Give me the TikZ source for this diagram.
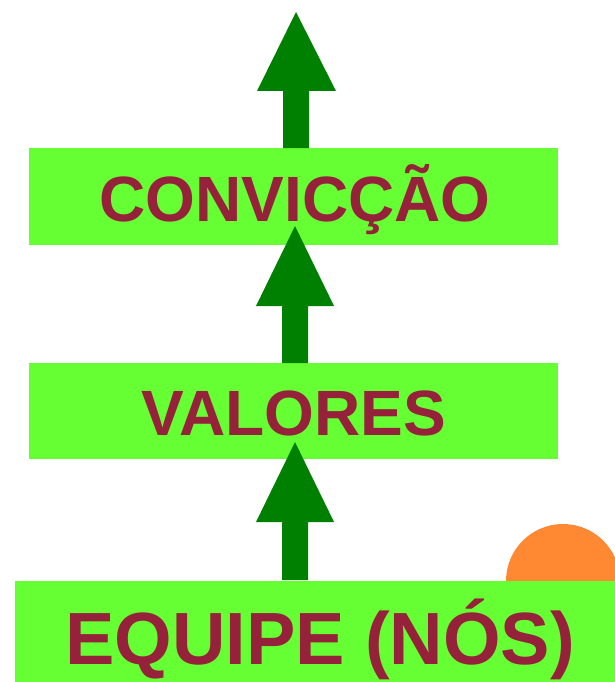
\documentclass[tikz,border=0pt]{standalone}
\usepackage{fontspec}
\setmainfont{Liberation Sans}
\definecolor{boxgreen}{HTML}{66FF33}
\definecolor{arrgreen}{HTML}{008000}
\definecolor{txtred}{HTML}{96213A}
\definecolor{sunorange}{HTML}{FF8833}
\begin{document}
\begin{tikzpicture}[x=1pt,y=-1pt,
  bar/.style={fill=boxgreen,draw=none},
  lbl/.style={anchor=base,text=txtred,font=\bfseries,inner sep=0pt},
  blockarrow/.style={fill=arrgreen,draw=none}]
\useasboundingbox (0,0) rectangle (615,682);
% sun
\fill[sunorange] (563,581) circle (57);
% boxes
\fill[bar] (29,148) rectangle (558,245);
\fill[bar] (29,363) rectangle (558,459);
\fill[bar] (15,581) rectangle (615,682);
\coordinate (c1) at (296,148);
\coordinate (c2) at (295,363);
\coordinate (c3) at (295,580);
% arrows
\fill[blockarrow] (c1) ++(-13,0) -- ++(0,-57) -- ++(-26,0) -- (296,12) -- (336,91) -- ++(-27,0) -- ++(0,57) -- cycle;
\fill[blockarrow] (c2) ++(-13,0) -- ++(0,-57) -- ++(-26,0) -- (295,226) -- (334,306) -- ++(-26,0) -- ++(0,57) -- cycle;
\fill[blockarrow] (c3) ++(-13,0) -- ++(0,-58) -- ++(-26,0) -- (295,442) -- (334,522) -- ++(-26,0) -- ++(0,58) -- cycle;
% labels
\node[lbl,font=\fontsize{64}{64}\selectfont\bfseries] (t1) at (295,221) {CONVICÇÃO};
\node[lbl,font=\fontsize{64}{64}\selectfont\bfseries] (t2) at (294,435) {VALORES};
\node[lbl,font=\fontsize{74}{74}\selectfont\bfseries] (t3) at (320,664) {EQUIPE (NÓS)};
\end{tikzpicture}
\end{document}
